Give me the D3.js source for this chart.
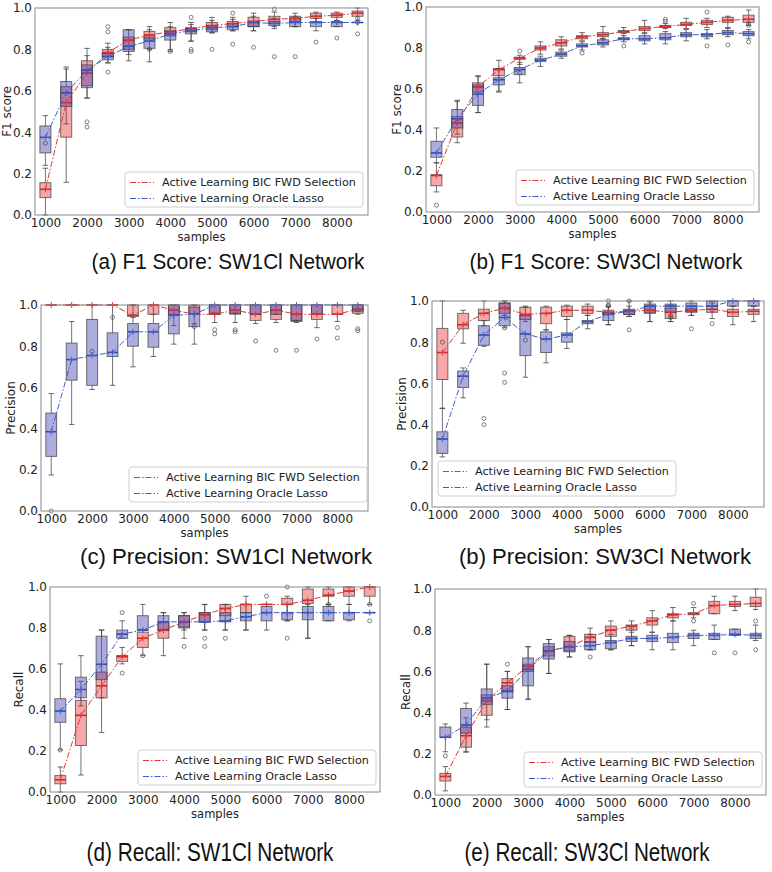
<!DOCTYPE html>
<html><head><meta charset="utf-8">
<script src="https://cdn.jsdelivr.net/npm/d3@7"></script>
<style>body{margin:0;background:#fff}svg{display:block}</style>
</head><body><svg id="c" width="772" height="872"></svg>
<script>
const samples = [1000,1500,2000,2500,3000,3500,4000,4500,5000,5500,6000,6500,7000,7500,8000,8500];
const xTicks = [1000,2000,3000,4000,5000,6000,7000,8000];
const yTicks = [0,0.2,0.4,0.6,0.8,1.0];
const seriesNames = ["Active Learning BIC FWD Selection","Active Learning Oracle Lasso"];

// each row: [whisker low, q1, median, q3, whisker high]
const f1SW1_bic = [[0.0,0.084,0.124,0.156,0.226],[0.158,0.376,0.543,0.62,0.715],[0.565,0.625,0.685,0.745,0.805],[0.735,0.765,0.785,0.80,0.83],[0.745,0.80,0.845,0.86,0.895],[0.80,0.85,0.87,0.887,0.91],[0.80,0.865,0.885,0.905,0.93],[0.84,0.885,0.90,0.905,0.93],[0.88,0.895,0.915,0.93,0.955],[0.89,0.91,0.925,0.935,0.955],[0.89,0.91,0.935,0.955,0.975],[0.90,0.925,0.945,0.96,0.98],[0.91,0.935,0.95,0.96,0.975],[0.93,0.95,0.96,0.975,0.98],[0.94,0.955,0.965,0.975,0.98],[0.94,0.96,0.975,0.985,1.0]];
const f1SW1_lasso = [[0.24,0.30,0.375,0.43,0.48],[0.44,0.525,0.59,0.645,0.705],[0.565,0.615,0.70,0.725,0.77],[0.735,0.75,0.765,0.78,0.81],[0.775,0.79,0.815,0.895,0.895],[0.74,0.805,0.84,0.86,0.895],[0.79,0.845,0.875,0.89,0.91],[0.84,0.875,0.89,0.90,0.92],[0.88,0.885,0.905,0.915,0.94],[0.89,0.895,0.91,0.925,0.945],[0.89,0.91,0.93,0.935,0.96],[0.91,0.915,0.925,0.935,0.95],[0.91,0.91,0.93,0.95,0.96],[0.89,0.91,0.93,0.935,0.95],[0.91,0.91,0.93,0.935,0.94],[0.93,0.93,0.93,0.93,0.93]];
const f1SW1_fliers = [[1000,0.347],[2000,0.45],[2000,0.425],[2500,0.91],[2500,0.885],[2500,0.69],[3500,0.80],[4000,0.79],[4500,0.955],[4500,0.80],[4500,0.79],[5000,0.80],[5500,0.975],[5500,0.825],[6000,0.81],[6500,0.995],[6500,0.765],[7000,0.765],[7500,0.835],[8000,0.855],[8500,0.95],[8500,0.93],[8500,0.875]];

const f1SW3_bic = [[0.098,0.128,0.178,0.182,0.24],[0.338,0.366,0.434,0.465,0.54],[0.485,0.585,0.61,0.63,0.665],[0.59,0.665,0.695,0.70,0.74],[0.72,0.745,0.75,0.755,0.765],[0.77,0.79,0.80,0.81,0.83],[0.795,0.81,0.825,0.84,0.855],[0.835,0.845,0.855,0.86,0.875],[0.845,0.855,0.865,0.875,0.905],[0.87,0.875,0.88,0.885,0.90],[0.875,0.885,0.895,0.905,0.935],[0.895,0.90,0.905,0.91,0.92],[0.895,0.91,0.915,0.925,0.945],[0.90,0.915,0.925,0.935,0.945],[0.90,0.925,0.935,0.95,0.955],[0.91,0.925,0.94,0.96,0.985]];
const f1SW3_lasso = [[0.24,0.267,0.288,0.345,0.41],[0.38,0.41,0.455,0.50,0.545],[0.485,0.52,0.575,0.62,0.66],[0.585,0.62,0.645,0.655,0.70],[0.63,0.67,0.695,0.705,0.73],[0.71,0.735,0.74,0.75,0.76],[0.75,0.76,0.77,0.78,0.79],[0.79,0.805,0.81,0.82,0.83],[0.805,0.815,0.825,0.84,0.845],[0.83,0.84,0.845,0.85,0.86],[0.82,0.835,0.845,0.86,0.87],[0.82,0.84,0.85,0.87,0.88],[0.835,0.855,0.865,0.875,0.89],[0.845,0.855,0.865,0.87,0.89],[0.855,0.865,0.875,0.885,0.895],[0.845,0.86,0.87,0.88,0.89]];
const f1SW3_fliers = [[1000,0.033],[3000,0.785],[3000,0.68],[4500,0.775],[5500,0.81],[6500,0.93],[6500,0.94],[7500,0.975],[7500,0.81],[8000,0.815],[8500,0.91],[8500,0.92],[8500,0.83]];

const precSW1_bic = [[1,1,1,1,1],[1,1,1,1,1],[1,1,1,1,1],[1,1,1,1,1],[0.94,0.945,0.95,1,1],[0.955,0.955,1,1,1],[0.90,0.955,0.975,1,1],[0.91,0.955,0.955,1,1],[0.915,0.955,0.955,1,1],[0.915,0.955,0.975,1,1],[0.91,0.925,0.955,1,1],[0.915,0.93,0.975,1,1],[0.915,0.92,0.955,1,1],[0.89,0.93,0.955,1,1],[0.92,0.955,0.955,1,1],[0.955,0.96,0.98,1,1]];
const precSW1_lasso = [[0.175,0.265,0.385,0.475,0.57],[0.42,0.635,0.735,0.815,0.92],[0.59,0.61,0.755,0.93,1],[0.61,0.75,0.77,0.865,1],[0.70,0.80,0.87,0.91,1],[0.75,0.795,0.87,0.91,1],[0.81,0.86,0.95,1,1],[0.81,0.895,0.955,0.99,1],[0.96,0.96,1,1,1],[0.96,0.96,1,1,1],[0.955,0.955,1,1,1],[0.955,0.955,1,1,1],[0.925,0.925,1,1,1],[0.955,0.955,1,1,1],[1,1,1,1,1],[0.97,0.97,1,1,1]];
const precSW1_fliers = [[1000,0.0],[2000,0.775],[2500,0.94],[4500,0.895],[5000,0.88],[5000,0.86],[5500,0.88],[5500,0.87],[6000,0.825],[6500,0.78],[7000,0.78],[7500,0.835],[8000,0.89],[8000,0.84],[8500,0.885],[8500,0.875]];

const precSW3_bic = [[0.48,0.619,0.75,0.867,1],[0.795,0.865,0.885,0.94,0.955],[0.88,0.905,0.94,0.96,1],[0.93,0.94,0.965,0.99,1],[0.90,0.91,0.935,0.97,0.975],[0.86,0.89,0.94,0.97,0.975],[0.91,0.925,0.955,0.975,0.98],[0.93,0.94,0.955,0.975,0.985],[0.885,0.935,0.945,0.955,0.975],[0.925,0.935,0.95,0.955,0.975],[0.90,0.94,0.955,0.975,0.995],[0.90,0.915,0.945,0.965,0.98],[0.93,0.945,0.955,0.965,0.975],[0.915,0.945,0.96,0.975,0.99],[0.885,0.925,0.945,0.96,0.975],[0.90,0.935,0.95,0.96,0.975]];
const precSW3_lasso = [[0.243,0.26,0.33,0.365,0.478],[0.53,0.58,0.635,0.66,0.675],[0.78,0.785,0.835,0.88,0.905],[0.87,0.88,0.92,0.99,1],[0.63,0.735,0.84,0.93,0.97],[0.70,0.75,0.815,0.85,0.86],[0.77,0.80,0.835,0.845,0.91],[0.865,0.89,0.90,0.905,0.93],[0.885,0.905,0.935,0.945,0.975],[0.925,0.935,0.95,0.96,1],[0.90,0.945,0.975,0.985,1],[0.90,0.945,0.975,0.985,1],[0.93,0.95,0.975,0.99,1],[0.975,0.975,0.975,1,1],[0.975,0.975,1,1,1],[0.975,0.975,1,1,1]];
const precSW3_fliers = [[1000,0.80],[2000,0.43],[2000,0.40],[2500,0.87],[2500,0.65],[2500,0.605],[3000,0.81],[5000,1.0],[5000,0.98],[5000,0.975],[5500,0.86],[5500,1.0],[6500,0.92],[6500,0.93],[7000,0.865],[7500,0.955],[7500,0.89]];

const recSW1_bic = [[0.0,0.04,0.06,0.08,0.122],[0.083,0.227,0.374,0.447,0.54],[0.29,0.459,0.518,0.585,0.79],[0.625,0.637,0.66,0.666,0.705],[0.665,0.705,0.75,0.78,0.79],[0.665,0.75,0.79,0.83,0.875],[0.75,0.80,0.83,0.86,0.875],[0.79,0.83,0.865,0.875,0.915],[0.79,0.86,0.895,0.915,0.915],[0.79,0.875,0.915,0.915,0.955],[0.915,0.915,0.915,0.915,0.915],[0.835,0.915,0.915,0.945,0.955],[0.75,0.92,0.935,0.99,1],[0.915,0.955,0.96,0.99,1],[0.915,0.955,0.98,1,1],[0.915,0.955,1,1,1]];
const recSW1_lasso = [[0.205,0.34,0.395,0.455,0.625],[0.42,0.46,0.50,0.56,0.665],[0.46,0.548,0.623,0.76,0.79],[0.75,0.75,0.77,0.79,0.835],[0.79,0.79,0.79,0.86,0.915],[0.79,0.79,0.83,0.86,0.875],[0.79,0.805,0.83,0.86,0.875],[0.79,0.83,0.83,0.875,0.915],[0.79,0.83,0.835,0.875,0.915],[0.79,0.835,0.855,0.875,0.915],[0.79,0.835,0.875,0.905,0.915],[0.835,0.84,0.875,0.875,0.915],[0.75,0.84,0.875,0.905,0.915],[0.835,0.835,0.875,0.905,0.915],[0.835,0.84,0.875,0.875,0.915],[0.875,0.875,0.875,0.875,0.875]];
const recSW1_fliers = [[1000,0.205],[2500,0.875],[2500,0.58],[3000,0.665],[4000,0.71],[4500,0.75],[4500,0.71],[5000,0.75],[6000,0.955],[6500,1.0],[6500,0.75],[7500,0.915],[8500,0.915],[8500,0.835]];

const recSW3_bic = [[0.02,0.068,0.09,0.105,0.138],[0.208,0.232,0.288,0.33,0.375],[0.365,0.387,0.458,0.486,0.635],[0.415,0.50,0.545,0.565,0.60],[0.465,0.60,0.625,0.635,0.72],[0.59,0.675,0.70,0.72,0.755],[0.67,0.70,0.72,0.77,0.775],[0.705,0.74,0.765,0.78,0.81],[0.705,0.77,0.80,0.82,0.845],[0.725,0.80,0.82,0.825,0.845],[0.79,0.825,0.845,0.86,0.895],[0.845,0.86,0.875,0.88,0.91],[0.86,0.875,0.88,0.885,0.91],[0.88,0.88,0.92,0.94,0.965],[0.895,0.915,0.925,0.94,0.965],[0.90,0.915,0.93,0.96,1.0]];
const recSW3_lasso = [[0.21,0.28,0.28,0.33,0.345],[0.21,0.30,0.34,0.42,0.446],[0.33,0.44,0.47,0.515,0.635],[0.415,0.47,0.505,0.53,0.60],[0.465,0.53,0.61,0.665,0.72],[0.59,0.66,0.70,0.735,0.755],[0.67,0.695,0.72,0.745,0.775],[0.705,0.705,0.725,0.745,0.78],[0.705,0.71,0.74,0.75,0.78],[0.725,0.745,0.76,0.77,0.79],[0.705,0.745,0.76,0.775,0.79],[0.705,0.74,0.765,0.785,0.845],[0.725,0.76,0.775,0.785,0.80],[0.755,0.755,0.775,0.785,0.825],[0.775,0.775,0.78,0.805,0.805],[0.75,0.76,0.775,0.785,0.825]];
const recSW3_fliers = [[1000,0.19],[2500,0.635],[4500,0.67],[5500,0.81],[7000,0.93],[7000,0.845],[7500,0.69],[8000,0.69],[8500,0.845],[8500,0.705]];

const panels = [
  {bic:f1SW1_bic, lasso:f1SW1_lasso, fliers:f1SW1_fliers, ylabel:"F1 score", title:"(a) F1 Score: SW1Cl Network",
   rect:[35,8,368,215], ylx:7, leg:[125,172], t:{x:228,y:269,fs:21.5,w:273}},
  {bic:f1SW3_bic, lasso:f1SW3_lasso, fliers:f1SW3_fliers, ylabel:"F1 score", title:"(b) F1 Score: SW3Cl Network",
   rect:[426,7,759,212], ylx:397, leg:[516,170], t:{x:606,y:269,fs:21.5,w:273}},
  {bic:precSW1_bic, lasso:precSW1_lasso, fliers:precSW1_fliers, ylabel:"Precision", title:"(c) Precision: SW1Cl Network",
   rect:[41,305,368,511], ylx:11, leg:[129,467], t:{x:226,y:564,fs:21.5,w:292}},
  {bic:precSW3_bic, lasso:precSW3_lasso, fliers:precSW3_fliers, ylabel:"Precision", title:"(b) Precision: SW3Cl Network",
   rect:[432,301,764,507], ylx:402, leg:[438,461], t:{x:605,y:564,fs:21.5,w:292}},
  {bic:recSW1_bic, lasso:recSW1_lasso, fliers:recSW1_fliers, ylabel:"Recall", title:"(d) Recall: SW1Cl Network",
   rect:[50,587,380,792], ylx:19, leg:[138,750], t:{x:210,y:861,fs:25,w:247}},
  {bic:recSW3_bic, lasso:recSW3_lasso, fliers:recSW3_fliers, ylabel:"Recall", title:"(e) Recall: SW3Cl Network",
   rect:[435,589,766,795], ylx:406, leg:[524,752], t:{x:587,y:861,fs:25,w:245}}
];

const sty = [
  {fill:"rgba(240,80,80,0.5)", med:"#c8202a", line:"#dd3535"},
  {fill:"rgba(70,70,180,0.45)", med:"#2c44b0", line:"#3f5fc8"}
];
const DASH = "6,2,1.5,2";
const svg = d3.select("#c");

panels.forEach(p => {
  const [x0,y0,x1,y1] = p.rect;
  const x = d3.scaleLinear().domain([750,8750]).range([x0,x1]);
  const y = d3.scaleLinear().domain([0,1]).range([y1,y0]);
  const g = svg.append("g");
  const hw = (x(1000+265)-x(1000))/2;

  [p.bic, p.lasso].forEach((data, si) => {
    const s = sty[si];
    const gs = g.append("g");
    data.forEach((d, i) => {
      const cx = x(samples[i]);
      const [lo,q1,md,q3,hi] = d;
      gs.append("line").attr("x1",cx).attr("x2",cx).attr("y1",y(q1)).attr("y2",y(lo))
        .attr("stroke","rgba(70,70,70,0.75)").attr("stroke-width",1);
      gs.append("line").attr("x1",cx).attr("x2",cx).attr("y1",y(q3)).attr("y2",y(hi))
        .attr("stroke","rgba(70,70,70,0.75)").attr("stroke-width",1);
      [lo,hi].forEach(v => gs.append("line").attr("x1",cx-hw/2).attr("x2",cx+hw/2).attr("y1",y(v)).attr("y2",y(v))
        .attr("stroke","rgba(70,70,70,0.8)").attr("stroke-width",1));
      gs.append("rect").attr("x",cx-hw).attr("width",2*hw).attr("y",y(q3)).attr("height",Math.max(0.01,y(q1)-y(q3)))
        .attr("fill",s.fill).attr("stroke","rgba(60,60,60,0.7)").attr("stroke-width",1);
      gs.append("line").attr("x1",cx-hw).attr("x2",cx+hw).attr("y1",y(md)).attr("y2",y(md))
        .attr("stroke",s.med).attr("stroke-width",1.5);
    });
  });

  g.selectAll("circle.fl").data(p.fliers).join("circle").attr("class","fl")
    .attr("cx",d=>x(d[0])).attr("cy",d=>y(d[1])).attr("r",2)
    .attr("fill","none").attr("stroke","rgba(60,60,60,0.8)").attr("stroke-width",0.8);

  [p.bic, p.lasso].forEach((data, si) => {
    const s = sty[si];
    const line = d3.line().x((d,i)=>x(samples[i])).y(d=>y(d[2]));
    g.append("path").attr("d",line(data)).attr("fill","none").attr("stroke",s.line)
      .attr("stroke-width",1).attr("stroke-dasharray",DASH);
    data.forEach((d,i)=>{
      const cx = x(samples[i]), cy = y(d[2]);
      g.append("path").attr("d",`M${cx-3},${cy}H${cx+3}M${cx},${cy-3}V${cy+3}`)
        .attr("stroke",s.line).attr("stroke-width",1).attr("fill","none");
    });
  });

  g.append("rect").attr("x",x0).attr("y",y0).attr("width",x1-x0).attr("height",y1-y0)
    .attr("fill","none").attr("stroke","#8a8a8a").attr("stroke-width",1);

  const ax = g.append("g").attr("transform",`translate(0,${y1})`)
    .call(d3.axisBottom(x).tickValues(xTicks).tickFormat(d3.format("d")).tickSize(0).tickPadding(3));
  const ay = g.append("g").attr("transform",`translate(${x0},0)`)
    .call(d3.axisLeft(y).tickValues(yTicks).tickFormat(d3.format(".1f")).tickSize(0).tickPadding(3));
  [ax,ay].forEach(a=>{
    a.select(".domain").remove();
    a.selectAll("text").attr("font-family","DejaVu Sans").attr("font-size",12).attr("fill","#222");
  });

  g.append("text").attr("x",(x0+x1)/2).attr("y",y1+26).attr("text-anchor","middle")
    .attr("font-family","DejaVu Sans").attr("font-size",11.5).attr("fill","#222").text("samples");
  g.append("text").attr("transform",`translate(${p.ylx},${(y0+y1)/2}) rotate(-90)`)
    .attr("text-anchor","middle").attr("dominant-baseline","central")
    .attr("font-family","DejaVu Sans").attr("font-size",12).attr("fill","#222").text(p.ylabel);

  const [lx,ly] = p.leg;
  const lg = g.append("g").attr("transform",`translate(${lx},${ly})`);
  lg.append("rect").attr("width",238).attr("height",35).attr("rx",3)
    .attr("fill","rgba(255,255,255,0.8)").attr("stroke","#d0d0d0").attr("stroke-width",1);
  seriesNames.forEach((n,i)=>{
    const yy = 10.5 + i*16;
    lg.append("line").attr("x1",5).attr("x2",29).attr("y1",yy).attr("y2",yy)
      .attr("stroke",sty[i].line).attr("stroke-width",1.2).attr("stroke-dasharray",DASH);
    lg.append("text").attr("x",37).attr("y",yy).attr("dominant-baseline","central")
      .attr("font-family","DejaVu Sans").attr("font-size",11.2).attr("fill","#222").text(n);
  });

  svg.append("text").attr("x",p.t.x).attr("y",p.t.y).attr("text-anchor","middle")
    .attr("font-family","Liberation Sans, Arial, sans-serif").attr("font-size",p.t.fs).attr("fill","#111")
    .attr("textLength",p.t.w).attr("lengthAdjust","spacingAndGlyphs").text(p.title);
});
</script></body></html>
